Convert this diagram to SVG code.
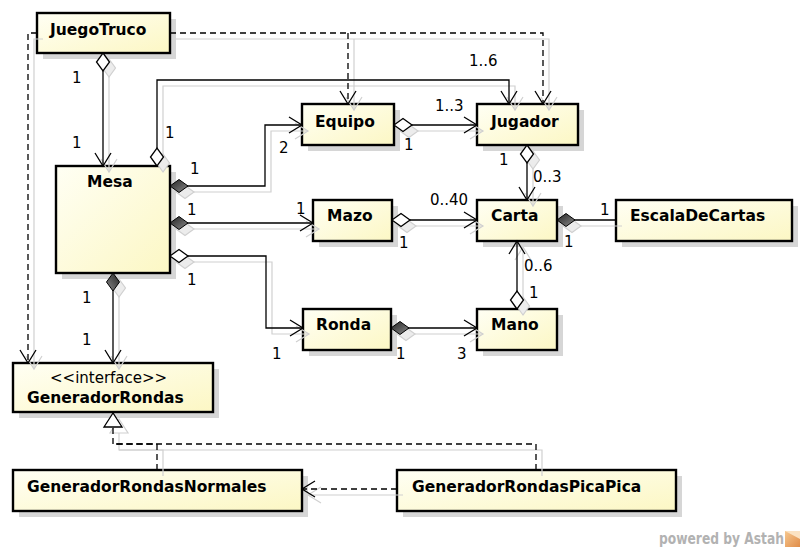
<svg xmlns="http://www.w3.org/2000/svg" width="804" height="552" viewBox="0 0 804 552">
<style>
.bg{fill:#fff}
.sh{fill:#d6d6d6}
.box{fill:url(#boxfill);stroke:#000;stroke-width:2.4}
.name{font-family:"DejaVu Sans","Liberation Sans",sans-serif;font-weight:bold;font-size:15.5px;fill:#000}
.ster{font-family:"DejaVu Sans","Liberation Sans",sans-serif;font-size:15px;fill:#000}
.lbl{font-family:"DejaVu Sans","Liberation Sans",sans-serif;font-size:15px;fill:#000}
.edge{fill:none;stroke:#000;stroke-width:1.3}
.dash{stroke-dasharray:6 4}
.es{fill:none;stroke:#d0d0d0;stroke-width:1.2}
.wm{font-family:"DejaVu Sans Condensed","DejaVu Sans",sans-serif;font-stretch:condensed;font-weight:bold;font-size:15px;fill:#b2b2b2}
</style>
<defs>
<linearGradient id="boxfill" x1="0" y1="0" x2="1" y2="1">
<stop offset="0" stop-color="#fffff4"/>
<stop offset="1" stop-color="#fcf7c4"/>
</linearGradient>
<linearGradient id="dark" x1="0" y1="0" x2="1" y2="1">
<stop offset="0" stop-color="#222"/>
<stop offset="1" stop-color="#8a8a8a"/>
</linearGradient>
<linearGradient id="logo" x1="0" y1="0" x2="1" y2="1">
<stop offset="0" stop-color="#f6c890"/>
<stop offset="1" stop-color="#e08c48"/>
</linearGradient>
<marker id="arrow" markerUnits="userSpaceOnUse" markerWidth="30" markerHeight="30" viewBox="-15 -15 30 30" refX="0" refY="0" orient="auto" overflow="visible">
<path d="M-13,-8 L0,0 L-13,8" fill="none" stroke="#000" stroke-width="1.3"/>
</marker>
<marker id="arrowS" markerUnits="userSpaceOnUse" markerWidth="30" markerHeight="30" viewBox="-15 -15 30 30" refX="0" refY="0" orient="auto" overflow="visible">
<path d="M-13,-8 L0,0 L-13,8" fill="none" stroke="#d0d0d0" stroke-width="1.2"/>
</marker>
<marker id="odia" markerUnits="userSpaceOnUse" markerWidth="30" markerHeight="30" viewBox="-5 -15 30 30" refX="0" refY="0" orient="auto" overflow="visible">
<path d="M0,0 L9,-6.5 L18,0 L9,6.5 Z" fill="#fff" stroke="#000" stroke-width="1.3"/>
</marker>
<marker id="fdia" markerUnits="userSpaceOnUse" markerWidth="30" markerHeight="30" viewBox="-5 -15 30 30" refX="0" refY="0" orient="auto" overflow="visible">
<path d="M0,0 L9,-6.5 L18,0 L9,6.5 Z" fill="url(#dark)" stroke="#000" stroke-width="1"/>
</marker>
<marker id="diaS" markerUnits="userSpaceOnUse" markerWidth="30" markerHeight="30" viewBox="-5 -15 30 30" refX="0" refY="0" orient="auto" overflow="visible">
<path d="M0,0 L9,-6.5 L18,0 L9,6.5 Z" fill="#ececec" stroke="#d0d0d0" stroke-width="1.2"/>
</marker>
<marker id="tri" markerUnits="userSpaceOnUse" markerWidth="30" markerHeight="30" viewBox="-15 -15 30 30" refX="0" refY="0" orient="auto" overflow="visible">
<path d="M0,0 L-14,-9 L-14,9 Z" fill="#fff" stroke="#000" stroke-width="1.3"/>
</marker>
<marker id="triS" markerUnits="userSpaceOnUse" markerWidth="30" markerHeight="30" viewBox="-15 -15 30 30" refX="0" refY="0" orient="auto" overflow="visible">
<path d="M0,0 L-14,-9 L-14,9 Z" fill="#fff" stroke="#d0d0d0" stroke-width="1.2"/>
</marker>
</defs>
<rect class="bg" x="0" y="0" width="804" height="552"/>

<g id="box-shadows">
<rect class="sh" x="43" y="19" width="133" height="40"/>
<rect class="sh" x="62" y="172" width="114" height="107"/>
<rect class="sh" x="308" y="110" width="92" height="41"/>
<rect class="sh" x="483" y="110" width="101" height="41"/>
<rect class="sh" x="319" y="206" width="79" height="41"/>
<rect class="sh" x="483" y="206" width="80" height="41"/>
<rect class="sh" x="622" y="206" width="176" height="41"/>
<rect class="sh" x="309" y="315" width="88" height="41"/>
<rect class="sh" x="483" y="315" width="80" height="41"/>
<rect class="sh" x="19" y="369" width="200" height="49"/>
<rect class="sh" x="19" y="476" width="289" height="41"/>
<rect class="sh" x="403" y="476" width="279" height="41"/>
</g>

<g id="JuegoTruco"><rect class="box" x="37" y="13" width="133" height="40"/><text class="name" x="50" y="35">JuegoTruco</text></g>
<g id="Mesa"><rect class="box" x="56" y="166" width="114" height="107"/><text class="name" x="87" y="187">Mesa</text></g>
<g id="Equipo"><rect class="box" x="302" y="104" width="92" height="41"/><text class="name" x="315" y="127">Equipo</text></g>
<g id="Jugador"><rect class="box" x="477" y="104" width="101" height="41"/><text class="name" x="491" y="127">Jugador</text></g>
<g id="Mazo"><rect class="box" x="313" y="200" width="79" height="41"/><text class="name" x="327" y="221">Mazo</text></g>
<g id="Carta"><rect class="box" x="477" y="200" width="80" height="41"/><text class="name" x="491" y="221">Carta</text></g>
<g id="EscalaDeCartas"><rect class="box" x="616" y="200" width="176" height="41"/><text class="name" x="630" y="221">EscalaDeCartas</text></g>
<g id="Ronda"><rect class="box" x="303" y="309" width="88" height="41"/><text class="name" x="316" y="330">Ronda</text></g>
<g id="Mano"><rect class="box" x="477" y="309" width="80" height="41"/><text class="name" x="491" y="330">Mano</text></g>
<g id="GeneradorRondas"><rect class="box" x="13" y="363" width="200" height="49"/><text class="ster" x="50" y="383">&lt;&lt;interface&gt;&gt;</text><text class="name" x="27" y="403">GeneradorRondas</text></g>
<g id="GeneradorRondasNormales"><rect class="box" x="13" y="470" width="289" height="41"/><text class="name" x="27" y="492">GeneradorRondasNormales</text></g>
<g id="GeneradorRondasPicaPica"><rect class="box" x="397" y="470" width="279" height="41"/><text class="name" x="412" y="492">GeneradorRondasPicaPica</text></g>

<g id="connector-shadows">
<path class="es" d="M176,39 H549 V110" marker-end="url(#arrowS)"/>
<path class="es" d="M354,39 V110" marker-end="url(#arrowS)"/>
<path class="es" d="M43,39 H34 V369" marker-end="url(#arrowS)"/>
<path class="es" d="M109,59 V172" marker-start="url(#diaS)" marker-end="url(#arrowS)"/>
<path class="es" d="M163,172 V86 H515 V110" marker-start="url(#diaS)" marker-end="url(#arrowS)"/>
<path class="es" d="M176,192 H271 V131 H308" marker-start="url(#diaS)" marker-end="url(#arrowS)"/>
<path class="es" d="M400,131 H483" marker-start="url(#diaS)" marker-end="url(#arrowS)"/>
<path class="es" d="M533,151 V206" marker-start="url(#diaS)" marker-end="url(#arrowS)"/>
<path class="es" d="M176,229 H319" marker-start="url(#diaS)" marker-end="url(#arrowS)"/>
<path class="es" d="M176,262 H272 V334 H309" marker-start="url(#diaS)" marker-end="url(#arrowS)"/>
<path class="es" d="M397,334 H483" marker-start="url(#diaS)" marker-end="url(#arrowS)"/>
<path class="es" d="M398,226 H483" marker-start="url(#diaS)" marker-end="url(#arrowS)"/>
<path class="es" d="M563,226 H622" marker-start="url(#diaS)"/>
<path class="es" d="M523,315 V247" marker-start="url(#diaS)" marker-end="url(#arrowS)"/>
<path class="es" d="M119,279 V369" marker-start="url(#diaS)" marker-end="url(#arrowS)"/>
<path class="es" d="M163,476 V450 H119 V419" marker-end="url(#triS)"/>
<path class="es" d="M542,476 V450 H119"/>
<path class="es" d="M403,495 H308" marker-end="url(#arrowS)"/>
</g>

<g id="connectors">
<path class="edge dash" d="M170,33 H543 V104" marker-end="url(#arrow)"/>
<path class="edge dash" d="M348,33 V104" marker-end="url(#arrow)"/>
<path class="edge dash" d="M37,33 H28 V363" marker-end="url(#arrow)"/>
<path class="edge" d="M103,53 V166" marker-start="url(#odia)" marker-end="url(#arrow)"/>
<path class="edge" d="M157,166 V80 H509 V104" marker-start="url(#odia)" marker-end="url(#arrow)"/>
<path class="edge" d="M170,186 H265 V125 H302" marker-start="url(#fdia)" marker-end="url(#arrow)"/>
<path class="edge" d="M394,125 H477" marker-start="url(#odia)" marker-end="url(#arrow)"/>
<path class="edge" d="M527,145 V200" marker-start="url(#odia)" marker-end="url(#arrow)"/>
<path class="edge" d="M170,223 H313" marker-start="url(#fdia)" marker-end="url(#arrow)"/>
<path class="edge" d="M170,256 H266 V328 H303" marker-start="url(#odia)" marker-end="url(#arrow)"/>
<path class="edge" d="M391,328 H477" marker-start="url(#fdia)" marker-end="url(#arrow)"/>
<path class="edge" d="M392,220 H477" marker-start="url(#odia)" marker-end="url(#arrow)"/>
<path class="edge" d="M557,220 H616" marker-start="url(#fdia)"/>
<path class="edge" d="M517,309 V241" marker-start="url(#odia)" marker-end="url(#arrow)"/>
<path class="edge" d="M113,273 V363" marker-start="url(#fdia)" marker-end="url(#arrow)"/>
<path class="edge dash" d="M157,470 V444 H113 V413" marker-end="url(#tri)"/>
<path class="edge dash" d="M536,470 V444 H113"/>
<path class="edge dash" d="M397,489 H302" marker-end="url(#arrow)"/>
</g>

<g id="labels">
<text class="lbl" x="72" y="83">1</text>
<text class="lbl" x="72" y="148">1</text>
<text class="lbl" x="165" y="138">1</text>
<text class="lbl" x="469" y="66">1..6</text>
<text class="lbl" x="190" y="174">1</text>
<text class="lbl" x="279" y="153">2</text>
<text class="lbl" x="435" y="111">1..3</text>
<text class="lbl" x="404" y="150">1</text>
<text class="lbl" x="499" y="165">1</text>
<text class="lbl" x="533" y="182">0..3</text>
<text class="lbl" x="187" y="215">1</text>
<text class="lbl" x="296" y="214">1</text>
<text class="lbl" x="430" y="205">0..40</text>
<text class="lbl" x="399" y="248">1</text>
<text class="lbl" x="600" y="215">1</text>
<text class="lbl" x="564" y="247">1</text>
<text class="lbl" x="524" y="271">0..6</text>
<text class="lbl" x="529" y="298">1</text>
<text class="lbl" x="187" y="285">1</text>
<text class="lbl" x="272" y="359">1</text>
<text class="lbl" x="396" y="359">1</text>
<text class="lbl" x="457" y="359">3</text>
<text class="lbl" x="82" y="303">1</text>
<text class="lbl" x="82" y="345">1</text>
</g>

<g id="watermark">
<text class="wm" x="659" y="544" textLength="125" lengthAdjust="spacingAndGlyphs">powered by Astah</text>
<rect x="785" y="531" width="15" height="16" fill="url(#logo)"/>
<path d="M785,531 L800,531 L800,539 Z" fill="#fbe2c2"/>
</g>
</svg>
